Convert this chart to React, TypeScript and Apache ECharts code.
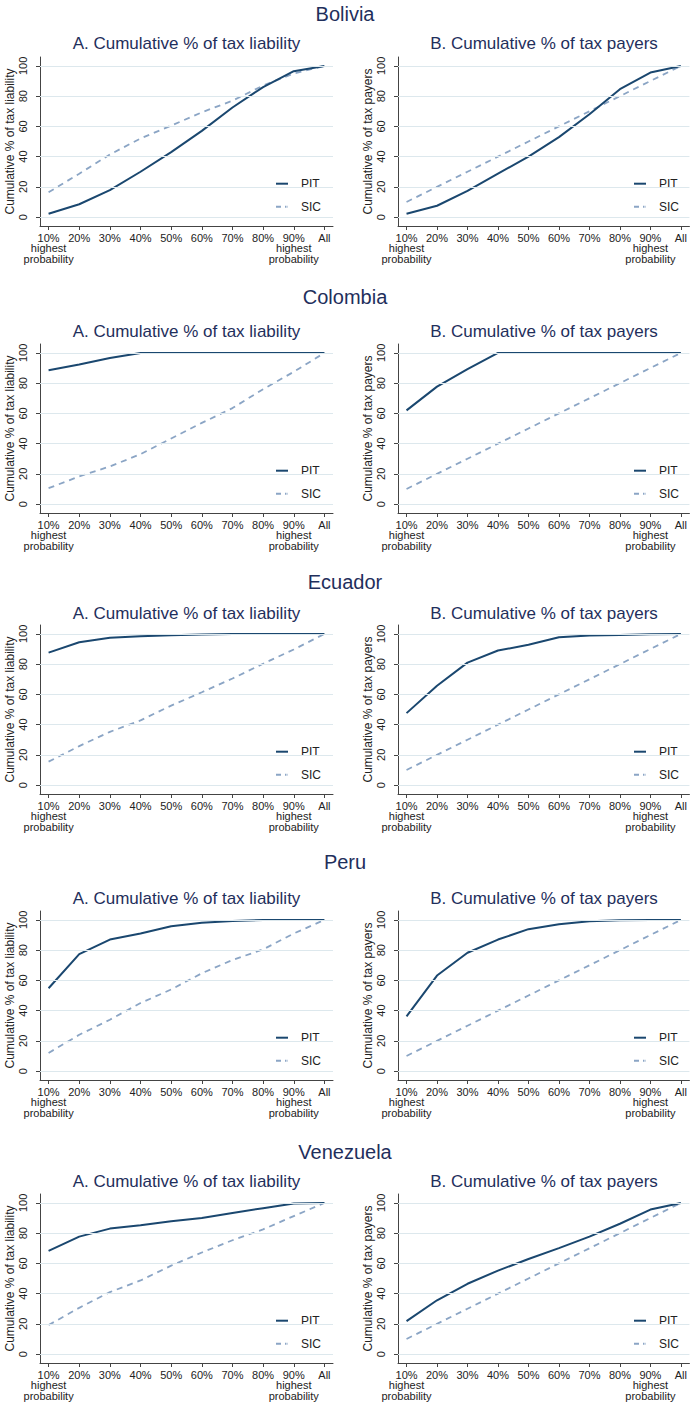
import React, { useEffect, useRef } from "react";
import * as echarts from "echarts";

// Countries, one row of two panels each
const countries = ["Bolivia", "Colombia", "Ecuador", "Peru", "Venezuela"];

// Deciles of filers ranked by probability
const deciles = ["10%", "20%", "30%", "40%", "50%", "60%", "70%", "80%", "90%", "All"];
// deciles that carry the "highest probability" note underneath
const notedDeciles = ["10%", "90%"];
const noteText = "highest\nprobability";
const yTicks = [0, 20, 40, 60, 80, 100];

const panelTitles = ["A. Cumulative % of tax liability", "B. Cumulative % of tax payers"];
const axisNames = ["Cumulative % of tax liability", "Cumulative % of tax payers"];

// A. Cumulative % of tax liability
const pitLiability = [
  [2.2, 8.5, 17.8, 30, 43, 57, 72.5, 86, 96.5, 100],
  [88.6, 92.4, 96.7, 100, 100, 100, 100, 100, 100, 100],
  [87.6, 94.5, 97.4, 98.5, 99.1, 99.6, 100, 100, 100, 100],
  [54.8, 77.4, 87, 91, 95.8, 98.2, 99.3, 100, 100, 100],
  [68.3, 77.7, 83, 85.2, 87.8, 90, 93.4, 96.5, 99.6, 100],
];
const sicLiability = [
  [16.4, 28.7, 41.4, 52, 60.5, 69.3, 77, 87, 95, 100],
  [10.5, 18.3, 24.9, 33, 43.4, 53.7, 63.5, 76, 87.5, 100],
  [15.5, 25.8, 35.2, 42.8, 52.6, 61.4, 70.5, 80.3, 89.7, 100],
  [12, 24, 34, 45, 54, 64.7, 73.5, 80.5, 91, 100],
  [19.2, 30.6, 41, 48.7, 58.5, 67.2, 75.3, 82.5, 91.3, 100],
];

// B. Cumulative % of tax payers
const pitPayers = [
  [2.2, 7.5, 17.3, 28.7, 40, 52.9, 68, 84.6, 95.6, 100],
  [62, 77.7, 89.3, 100, 100, 100, 100, 100, 100, 100],
  [47.6, 65.7, 81, 89, 92.8, 97.8, 98.9, 99.3, 99.8, 100],
  [36.2, 63.2, 78.3, 87, 93.9, 97.1, 99.1, 99.8, 100, 100],
  [21.8, 35.6, 46.5, 55.2, 62.9, 70.1, 77.7, 86.2, 95.6, 100],
];
const sicPayers = [
  [10, 20, 30, 40, 50, 60, 70, 80, 90, 100],
  [10, 20, 30, 40, 50, 60, 70, 80, 90, 100],
  [10, 20, 30, 40, 50, 60, 70, 80, 90, 100],
  [10, 20, 30, 40, 50, 60, 70, 80, 90, 100],
  [10, 20, 30, 40, 50, 60, 70, 80, 90, 100],
];

const FONT = "'Liberation Sans', Arial, sans-serif";
const NAVY = "#1a476f";
const SEA = "#8ba5c5";
const TEXT = "#222222";
const TITLE = "#1f2f5c";

const gridTops = [57, 344, 625, 911, 1194];
const countryTitleTops = [4, 287, 572, 852, 1142];
const panelTitleTops = [35, 323, 605, 890, 1173];
const gridLefts = [40, 398];
const gridWidths = [293, 292];
const GRID_H = 169;

// legend keys: a solid bar and a dash-dot bar
const SOLID_KEY = "path://M0,0 L12,0 L12,2 L0,2 Z";
const DASH_KEY = "path://M0,0 L5,0 L5,2 L0,2 Z M9,0 L10.5,0 L10.5,2 L9,2 Z M11.5,0 L12,0 L12,2 L11.5,2 Z";

function buildOption() {
  const grids: any[] = [];
  const xAxes: any[] = [];
  const yAxes: any[] = [];
  const series: any[] = [];
  const legends: any[] = [];
  const titles: any[] = [];
  const xTickValues = deciles.map((_, i) => i + 1);
  const noteValues = notedDeciles.map((d) => deciles.indexOf(d) + 1);

  countries.forEach((country, c) => {
    titles.push({
      text: country,
      left: 345,
      textAlign: "center",
      top: countryTitleTops[c],
      padding: 0,
      textStyle: { fontFamily: FONT, fontSize: 20, fontWeight: "normal", color: TITLE },
    });
    for (let p = 0; p < 2; p++) {
      const g = c * 2 + p;
      const left = gridLefts[p];
      const top = gridTops[c];
      grids.push({ left, top, width: gridWidths[p], height: GRID_H, containLabel: false });
      titles.push({
        text: panelTitles[p],
        left: left + gridWidths[p] / 2,
        textAlign: "center",
        top: panelTitleTops[c],
        padding: 0,
        textStyle: { fontFamily: FONT, fontSize: 17, fontWeight: "normal", color: TITLE },
      });
      // decile axis
      xAxes.push({
        type: "value",
        gridIndex: g,
        position: "bottom",
        min: 0.72,
        max: 10.28,
        axisLine: { show: true, onZero: false, lineStyle: { color: "#444", width: 1 } },
        axisTick: { show: true, length: 4, customValues: xTickValues, lineStyle: { color: "#444" } },
        axisLabel: {
          customValues: xTickValues,
          formatter: (v: number) => deciles[Math.round(v) - 1] ?? "",
          showMinLabel: true,
          showMaxLabel: true,
          fontFamily: FONT,
          fontSize: 11,
          color: TEXT,
          margin: 6,
        },
        splitLine: { show: false },
      });
      // note axis carrying "highest probability" under 10% and 90%
      xAxes.push({
        type: "value",
        gridIndex: g,
        position: "bottom",
        offset: 0,
        min: 0.72,
        max: 10.28,
        axisLine: { show: false, onZero: false },
        axisTick: { show: false },
        axisLabel: {
          customValues: noteValues,
          formatter: () => noteText,
          fontFamily: FONT,
          fontSize: 11,
          lineHeight: 10.5,
          color: TEXT,
          margin: 17,
        },
        splitLine: { show: false },
      });
      yAxes.push({
        type: "value",
        gridIndex: g,
        min: -5.9,
        max: 105.9,
        name: axisNames[p],
        nameLocation: "middle",
        nameRotate: 90,
        nameGap: 23,
        nameTextStyle: { fontFamily: FONT, fontSize: 12, color: TEXT },
        axisLine: { show: true, lineStyle: { color: "#444", width: 1 } },
        axisTick: { show: true, length: 4, customValues: yTicks, lineStyle: { color: "#444" } },
        axisLabel: {
          customValues: yTicks,
          showMinLabel: true,
          showMaxLabel: true,
          rotate: 90,
          margin: 12,
          fontFamily: FONT,
          fontSize: 11,
          color: TEXT,
        },
        splitLine: { show: false },
      });
      const pit = p === 0 ? pitLiability[c] : pitPayers[c];
      const sic = p === 0 ? sicLiability[c] : sicPayers[c];
      series.push({
        type: "line",
        name: "SIC",
        xAxisIndex: g * 2,
        yAxisIndex: g,
        z: 2,
        symbol: "none",
        silent: true,
        lineStyle: { color: SEA, width: 1.8, type: [6, 5] },
        itemStyle: { color: SEA },
        data: sic.map((v, i) => [i + 1, v]),
        markLine: {
          silent: true,
          symbol: ["none", "none"],
          label: { show: false },
          lineStyle: { color: "#dde8ed", width: 1, type: "solid" },
          emphasis: { disabled: true },
          data: yTicks.map((v) => ({ yAxis: v })),
        },
      });
      series.push({
        type: "line",
        name: "PIT",
        xAxisIndex: g * 2,
        yAxisIndex: g,
        z: 3,
        symbol: "none",
        silent: true,
        lineStyle: { color: NAVY, width: 2 },
        itemStyle: { color: NAVY },
        data: pit.map((v, i) => [i + 1, v]),
      });
      legends.push({
        data: [
          { name: "PIT", icon: SOLID_KEY, itemStyle: { color: NAVY } },
          { name: "SIC", icon: DASH_KEY, itemStyle: { color: SEA } },
        ],
        orient: "vertical",
        left: left + 228,
        top: top + 115.7,
        itemWidth: 12,
        itemHeight: 2,
        itemGap: 11,
        padding: [5, 8, 5, 8],
        backgroundColor: "#ffffff",
        selectedMode: false,
        textStyle: { fontFamily: FONT, fontSize: 12, color: TEXT, padding: [0, 0, 0, 8] },
      });
    }
  });

  return {
    animation: false,
    backgroundColor: "#ffffff",
    title: titles,
    grid: grids,
    xAxis: xAxes,
    yAxis: yAxes,
    legend: legends,
    series,
  };
}

export default function App() {
  const ref = useRef<HTMLDivElement>(null);
  useEffect(() => {
    if (!ref.current) return;
    const chart = echarts.init(ref.current, undefined, { renderer: "svg" });
    chart.setOption(buildOption() as any);
    return () => chart.dispose();
  }, []);
  return (
    <div
      ref={ref}
      style={{ position: "absolute", left: 0, top: 0, width: 690, height: 1406, background: "#fff" }}
    />
  );
}
